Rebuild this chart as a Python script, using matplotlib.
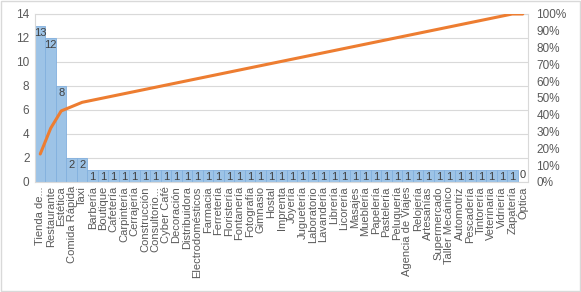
import matplotlib
matplotlib.use("Agg")
import matplotlib.pyplot as plt
import numpy as np
from matplotlib.patches import Rectangle

plt.rcParams['font.family'] = ['Liberation Sans', 'DejaVu Sans']

categorias = ["Tienda de...", "Restaurante", "Estética", "Comida Rápida", "Taxi",
              "Barbería", "Boutique", "Cafetería", "Carpintería", "Cerrajería",
              "Construcción", "Consultorio...", "Cyber Café", "Decoración",
              "Distribuidora", "Electrodomésticos", "Farmacia", "Ferretería",
              "Floristería", "Fontanería", "Fotografía", "Gimnasio", "Hostal",
              "Imprenta", "Joyería", "Juguetería", "Laboratorio", "Lavandería",
              "Librería", "Licorería", "Masajes", "Mueblería", "Papelería",
              "Pastelería", "Peluquería", "Agencia de Viajes", "Relojería",
              "Artesanías", "Supermercado", "Taller Mecánico", "Automotriz",
              "Pescadería", "Tintorería", "Veterinaria", "Vidriería", "Zapatería",
              "Óptica"]
valores = [13, 12, 8, 2, 2,
           1, 1, 1, 1, 1, 1, 1, 1, 1, 1, 1, 1, 1, 1, 1, 1, 1, 1, 1, 1, 1,
           1, 1, 1, 1, 1, 1, 1, 1, 1, 1, 1, 1, 1, 1, 1, 1, 1, 1, 1, 1,
           0]

# porcentaje acumulado (Pareto)
acumulado = np.cumsum(valores) / np.sum(valores)

gris = '#595959'
fig = plt.figure(figsize=(5.81, 2.92), dpi=100)
ax = fig.add_axes([35/581, 1-182/292, (528-35)/581, (182-14)/292])
x = np.arange(len(categorias))

ax.bar(x, valores, width=1.0, color='#9dc3e6', edgecolor='#82b0de', linewidth=0.6, zorder=2)
for xi, v in zip(x, valores):
    if v > 0:
        ax.annotate(str(v), (xi, v), xytext=(0, -1.5), textcoords='offset points',
                    ha='center', va='top', fontsize=8, color='#404040', zorder=4)
    else:
        ax.annotate(str(v), (xi, v), xytext=(0, 1.5), textcoords='offset points',
                    ha='center', va='bottom', fontsize=8, color='#404040', zorder=4)

ax.set_xlim(-0.5, len(categorias) - 0.5)
ax.set_ylim(0, 14)
ax.set_yticks(range(0, 15, 2))
ax.grid(axis='y', color='#d9d9d9', linewidth=0.8, zorder=0)
ax.set_xticks(x)
ax.set_xticklabels(categorias, rotation=90, color=gris)
ax.tick_params(axis='y', length=0, colors=gris, labelsize=8.5, pad=4)
ax.tick_params(axis='x', length=0, colors=gris, labelsize=8, pad=3)
for s in ax.spines.values():
    s.set_color('#d9d9d9')
    s.set_linewidth(0.8)

ax2 = ax.twinx()
ax2.plot(x, acumulado, color='#ed7d31', linewidth=2.2, solid_capstyle='round', zorder=3)
ax2.set_ylim(0, 1)
ax2.set_yticks(np.linspace(0, 1, 11))
ax2.set_yticklabels([f"{int(round(t*100))}%" for t in np.linspace(0, 1, 11)])
ax2.tick_params(axis='y', length=0, colors=gris, labelsize=8.5, pad=6)
for s in ax2.spines.values():
    s.set_visible(False)

fig.patches.append(Rectangle((0.001, 0.002), 0.997, 0.995, transform=fig.transFigure,
                             fill=False, edgecolor='#d9d9d9', linewidth=1))

fig.savefig("out.png", dpi=100)
